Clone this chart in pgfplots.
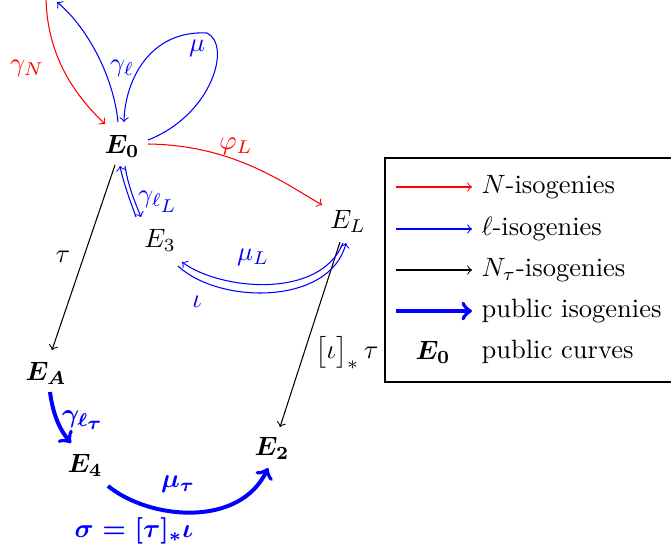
\documentclass[border=0pt]{standalone}
\usepackage{amsmath,amssymb}
\usepackage{pgfplots}
\pgfplotsset{compat=1.18}

\begin{document}
\begin{tikzpicture}
\begin{axis}[
    scale only axis, width=253pt, height=208.9pt,
    xmin=0, xmax=671, ymin=0, ymax=554, y dir=reverse,
    hide axis, clip=true,
]
% invisible frame keeps the picture at the reference size
\addplot[draw=none, forget plot] coordinates {(0,0) (671,554)};

% thin arrows
\draw[red, ->] (46,-5) .. controls (46,60) and (80,100) .. (105,124);
\draw[blue, ->] (118,122) .. controls (114,80) and (90,30) .. (57,2);
\draw[blue, ->] (148,140) .. controls (212,115) and (232,45) .. (207,33)
    .. controls (150,30) and (125,80) .. (124,122);
\draw[red, ->] (148,144) .. controls (230,145) and (280,180) .. (322,205);
\draw[->] (115,165) -- (52,350);
\draw[->] (340,242) -- (280,427);
\draw[blue, <-] (120,166) .. controls (124,185) and (130,200) .. (136,217);
\draw[blue, ->] (125,166) .. controls (128,185) and (134,200) .. (141,217);
\draw[blue, ->] (343,243) .. controls (320,300) and (220,290) .. (182,262);
\draw[blue, ->] (178,266) .. controls (220,305) and (330,305) .. (346,243);

% public arrows
\draw[blue, line width=1.5pt, ->] (50,392) .. controls (53,415) and (60,430) .. (71,443);
\draw[blue, line width=1.5pt, ->] (108,486) .. controls (150,520) and (240,528) .. (268,468);

% curves
\node at (122,146) {$\boldsymbol{E_0}$};
\node at (160,240) {$E_3$};
\node at (348,221) {$E_L$};
\node at (46,373) {$\boldsymbol{E_A}$};
\node at (85,465) {$\boldsymbol{E_4}$};
\node at (272,448) {$\boldsymbol{E_2}$};

% edge labels
\node[red] at (27,68) {$\gamma_N$};
\node[blue] at (122,68) {$\gamma_\ell$};
\node[blue] at (197,48) {$\mu$};
\node[red] at (236,146) {$\varphi_L$};
\node[blue] at (158,202) {$\gamma_{\ell_{\scriptstyle L}}$};
\node[blue] at (253,257) {$\mu_L$};
\node[blue] at (197,302) {$\iota$};
\node at (63,257) {$\tau$};
\node at (347,353) {$\bigl[\iota\bigr]_*\,\tau$};
\node[blue] at (83,420) {$\boldsymbol{\gamma_{\ell_{\scriptstyle\tau}}}$};
\node[blue] at (178,484) {$\boldsymbol{\mu_\tau}$};
\node[blue] at (134,531) {$\boldsymbol{\sigma=[\tau]_*\iota}$};

% legend
\draw (385,158) rectangle (676,382);
\draw[red, ->] (396,187) -- (472,187);
\draw[blue, ->] (396,229) -- (472,229);
\draw[->] (396,270) -- (472,270);
\draw[blue, line width=1.5pt, ->] (396,311) -- (472,311);
\node at (433,352) {$\boldsymbol{E_0}$};
\node[anchor=west, inner sep=0pt] at (481,187) {$N$-isogenies};
\node[anchor=west, inner sep=0pt] at (481,229) {$\ell$-isogenies};
\node[anchor=west, inner sep=0pt] at (481,270) {$N_\tau$-isogenies};
\node[anchor=west, inner sep=0pt] at (481,311) {public isogenies};
\node[anchor=west, inner sep=0pt] at (481,352) {public curves};
\end{axis}
\end{tikzpicture}
\end{document}
